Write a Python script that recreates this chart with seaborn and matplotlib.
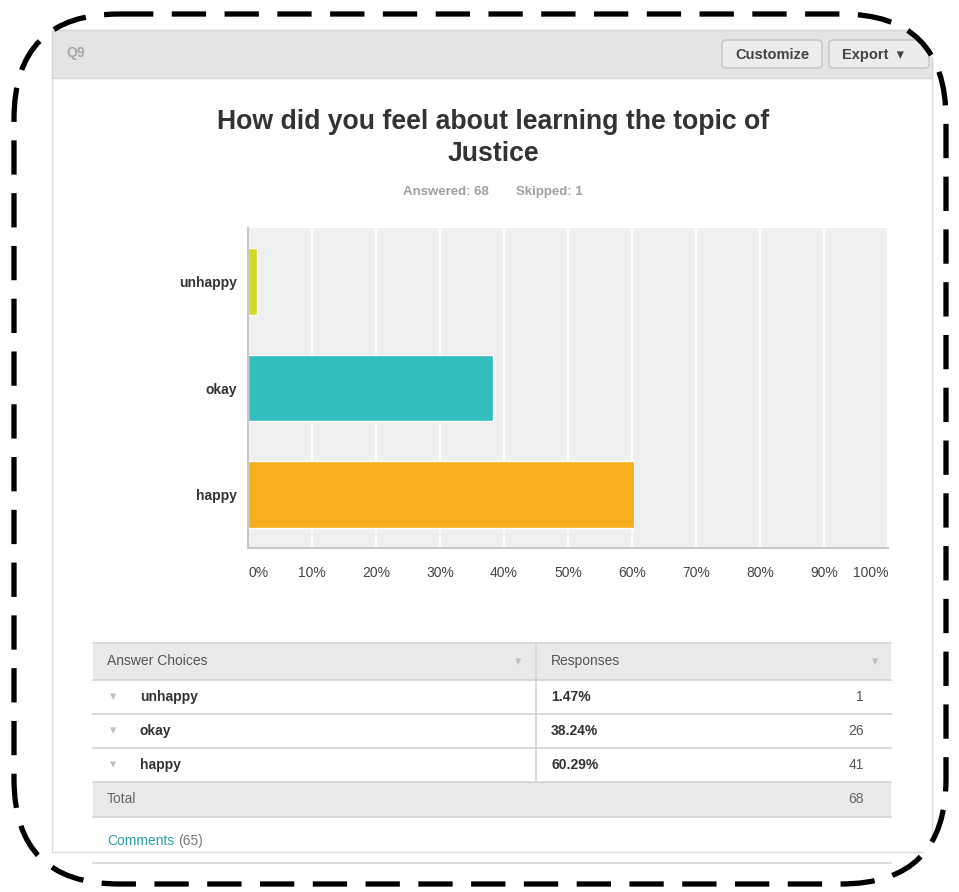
import matplotlib as mpl
mpl.use('Agg')

import seaborn as sns
import pandas as pd
import numpy as np
import matplotlib.pyplot as plt
from matplotlib.patches import FancyBboxPatch, Rectangle

# survey data
choices = ['unhappy', 'okay', 'happy']
percents = [1.47, 38.24, 60.29]
counts = [1, 26, 41]
bar_colors = ['#d2d92a', '#32bdbf', '#f6ae1f']
x_ticks = [0, 10, 20, 30, 40, 50, 60, 70, 80, 90, 100]
x_tick_labels = ['0%', '10%', '20%', '30%', '40%', '50%', '60%', '70%', '80%', '90%', '100%']
answered = 68
skipped = 1
total = 68
n_comments = 65
title = "How did you feel about learning the topic of\nJustice"

sns.set_theme(style="white")
plt.rcParams['font.family'] = ['Liberation Sans', 'DejaVu Sans']

W, H = 959, 892
fig = plt.figure(figsize=(W / 100, H / 100), dpi=100)
fig.patch.set_facecolor('white')

# background layer in pixel coordinates
bg = fig.add_axes([0, 0, 1, 1], zorder=0)
bg.set_xlim(0, W)
bg.set_ylim(H, 0)
bg.axis('off')

# rounded frame, also used to clip the panel
clip = FancyBboxPatch((14, 14), 932, 870, boxstyle="round,pad=0,rounding_size=105",
                      transform=bg.transData, facecolor='none', edgecolor='none')

# panel and header band
panel = Rectangle((52, 30), 880, 822, facecolor='white', edgecolor='#dcdcdc', lw=1)
bg.add_patch(panel)
panel.set_clip_path(clip)
header = Rectangle((52, 30), 880, 48, facecolor='#e4e4e4', edgecolor='#d6d6d6', lw=1)
bg.add_patch(header)
header.set_clip_path(clip)
bg.text(66, 53, 'Q9', fontsize=10, fontweight='bold', color='#a8a8a8', va='center')

for x0, w0, lab in [(722, 100, 'Customize'), (829, 100, 'Export  \u25BE')]:
    b = FancyBboxPatch((x0, 40), w0, 28, boxstyle="round,pad=0,rounding_size=4",
                       facecolor='#ececec', edgecolor='#c4c4c4', lw=1)
    bg.add_patch(b)
    b.set_clip_path(clip)
    t = bg.text(x0 + 13, 55, lab, fontsize=10.5, fontweight='bold', color='#444444', va='center')
    t.set_clip_path(clip)

bg.text(493, 138, title, fontsize=19.2, fontweight='bold', color='#333333',
        ha='center', va='center', linespacing=1.3)
bg.text(446, 192, 'Answered: %d' % answered, fontsize=9.5, fontweight='bold',
        color='#a0a0a0', ha='center', va='center')
bg.text(549, 192, 'Skipped: %d' % skipped, fontsize=9.5, fontweight='bold',
        color='#a0a0a0', ha='center', va='center')

# table
tx0, tx1, tdiv = 93, 891, 536
bg.add_patch(Rectangle((tx0, 643), tx1 - tx0, 37, facecolor='#e9e9e9', edgecolor='none'))
bg.add_patch(Rectangle((tx0, 782), tx1 - tx0, 35, facecolor='#e9e9e9', edgecolor='none'))
for yy in [643, 680, 714, 748, 782, 817, 863]:
    bg.plot([tx0, tx1], [yy, yy], color='#d4d4d4', lw=1.2)
bg.plot([tdiv, tdiv], [643, 782], color='#d4d4d4', lw=1.2)
bg.text(107, 661, 'Answer Choices', fontsize=10, color='#555555', va='center')
bg.text(551, 661, 'Responses', fontsize=10, color='#555555', va='center')
bg.text(518, 662, '\u25BE', fontsize=9, color='#c0c0c0', ha='center', va='center')
bg.text(875, 662, '\u25BE', fontsize=9, color='#c0c0c0', ha='center', va='center')

row_y = [697, 731, 765]
for yy, name, pct, cnt in zip(row_y, choices, percents, counts):
    bg.text(113, yy, '\u25BE', fontsize=9, color='#c0c0c0', ha='center', va='center')
    bg.text(140, yy, name, fontsize=10, fontweight='bold', color='#333333', va='center')
    bg.text(551, yy, '%.2f%%' % pct, fontsize=10, fontweight='bold', color='#333333', va='center')
    bg.text(864, yy, str(cnt), fontsize=10, color='#555555', ha='right', va='center')
bg.text(107, 799, 'Total', fontsize=10, color='#666666', va='center')
bg.text(864, 799, str(total), fontsize=10, color='#666666', ha='right', va='center')
bg.text(107, 841, 'Comments', fontsize=10, color='#2a9fa6', va='center')
bg.text(178, 841, '(%d)' % n_comments, fontsize=10, color='#777777', va='center')

# dashed rounded border
border = FancyBboxPatch((14, 14), 932, 870, boxstyle="round,pad=0,rounding_size=105",
                        facecolor='none', edgecolor='black', lw=3.8,
                        linestyle=(0, (6.5, 3.5)), zorder=10)
bg.add_patch(border)

# bar chart
ax = fig.add_axes([248 / W, 1 - 548 / H, 640 / W, 320 / H], zorder=1)
df = pd.DataFrame({'choice': choices, 'percent': percents})
sns.barplot(data=df, x='percent', y='choice', hue='choice', palette=bar_colors,
            order=choices, width=0.625, legend=False, ax=ax, saturation=1)
ax.set_facecolor('#efefef')
ax.set_xlim(0, 100)
ax.set_ylim(2.5, -0.5)
ax.set_xticks(x_ticks)
ax.set_xticklabels(x_tick_labels)
ax.grid(axis='x', color='white', lw=1.2)
ax.set_axisbelow(True)
ax.set_xlabel('')
ax.set_ylabel('')
for s in ['top', 'right']:
    ax.spines[s].set_visible(False)
for s in ['left', 'bottom']:
    ax.spines[s].set_color('#c8c8c8')
    ax.spines[s].set_linewidth(1.5)
ax.tick_params(axis='x', length=0, pad=13, labelsize=10, labelcolor='#444444')
ax.tick_params(axis='y', length=0, pad=8, labelsize=10, labelcolor='#333333')
for lab in ax.get_yticklabels():
    lab.set_fontweight('bold')
xl = ax.get_xticklabels()
xl[0].set_ha('left')
xl[-1].set_ha('right')

fig.savefig('out.png', dpi=100, facecolor='white')
